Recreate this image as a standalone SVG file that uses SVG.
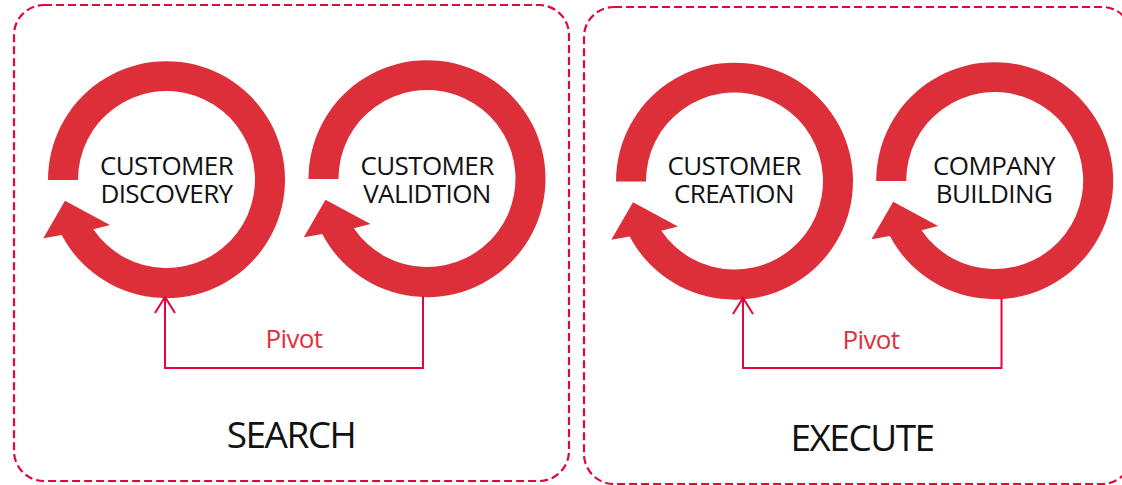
<svg xmlns="http://www.w3.org/2000/svg" xmlns:xlink="http://www.w3.org/1999/xlink" width="1122" height="485" viewBox="0 0 1122 485">
  <style>
    .box { fill: none; stroke: #e2063a; stroke-width: 2.2; stroke-dasharray: 8 4; }
    .ring { fill: #dd2f3a; }
    .label { font-family: "Open Sans", "Noto Sans", sans-serif; font-size: 26px; letter-spacing: -0.6px; fill: #111; text-anchor: middle; }
    .title { font-family: "Open Sans", "Noto Sans", sans-serif; font-size: 37px; letter-spacing: -1.5px; fill: #111; text-anchor: middle; }
    .pivot { font-family: "Open Sans", "Noto Sans", sans-serif; font-size: 26px; letter-spacing: -0.6px; fill: #e0303b; text-anchor: middle; }
    .conn { fill: none; stroke: #e2063a; stroke-width: 2; }
  </style>
  <defs>
    <path id="ring" d="M -118.5 0 A 118.5 118.5 0 1 1 -104.8 55 L -123.2 58.3 L -101.5 20.7 L -56.5 45 L -73.2 49.3 A 88.5 88.5 0 1 0 -88.5 0 Z"/>
  </defs>
  <rect width="1122" height="485" fill="#ffffff"/>

  <g id="search-box">
    <rect class="box" x="14" y="5" width="555" height="476" rx="30" ry="30"/>
    <text class="title" x="291" y="448">SEARCH</text>
  </g>
  <g id="execute-box">
    <rect class="box" x="584" y="7" width="548" height="477" rx="30" ry="30"/>
    <text class="title" x="862" y="451">EXECUTE</text>
  </g>

  <g id="customer-discovery">
    <use class="ring" xlink:href="#ring" href="#ring" x="166.5" y="180"/>
    <text class="label" x="166.5" y="174.5">CUSTOMER</text>
    <text class="label" x="166.5" y="203">DISCOVERY</text>
  </g>
  <g id="customer-validation">
    <use class="ring" xlink:href="#ring" href="#ring" x="427" y="179"/>
    <text class="label" x="427" y="174.5">CUSTOMER</text>
    <text class="label" x="427" y="203">VALIDTION</text>
  </g>
  <g id="customer-creation">
    <use class="ring" xlink:href="#ring" href="#ring" x="734.5" y="181.5"/>
    <text class="label" x="734" y="174.5">CUSTOMER</text>
    <text class="label" x="734" y="203">CREATION</text>
  </g>
  <g id="company-building">
    <use class="ring" xlink:href="#ring" href="#ring" x="994.7" y="181"/>
    <text class="label" x="994" y="174.5">COMPANY</text>
    <text class="label" x="994" y="203">BUILDING</text>
  </g>

  <g id="connectors">
    <path class="conn" d="M 423 296 L 423 368 L 165 368 L 165 297"/>
    <path class="conn" d="M 155 313 L 165 297 L 175 313"/>
    <text class="pivot" x="294" y="348">Pivot</text>
    <path class="conn" d="M 1001.5 298 L 1001.5 368 L 743 368 L 743 298"/>
    <path class="conn" d="M 733 314 L 743 298 L 753 314"/>
    <text class="pivot" x="871" y="349">Pivot</text>
  </g>
</svg>
